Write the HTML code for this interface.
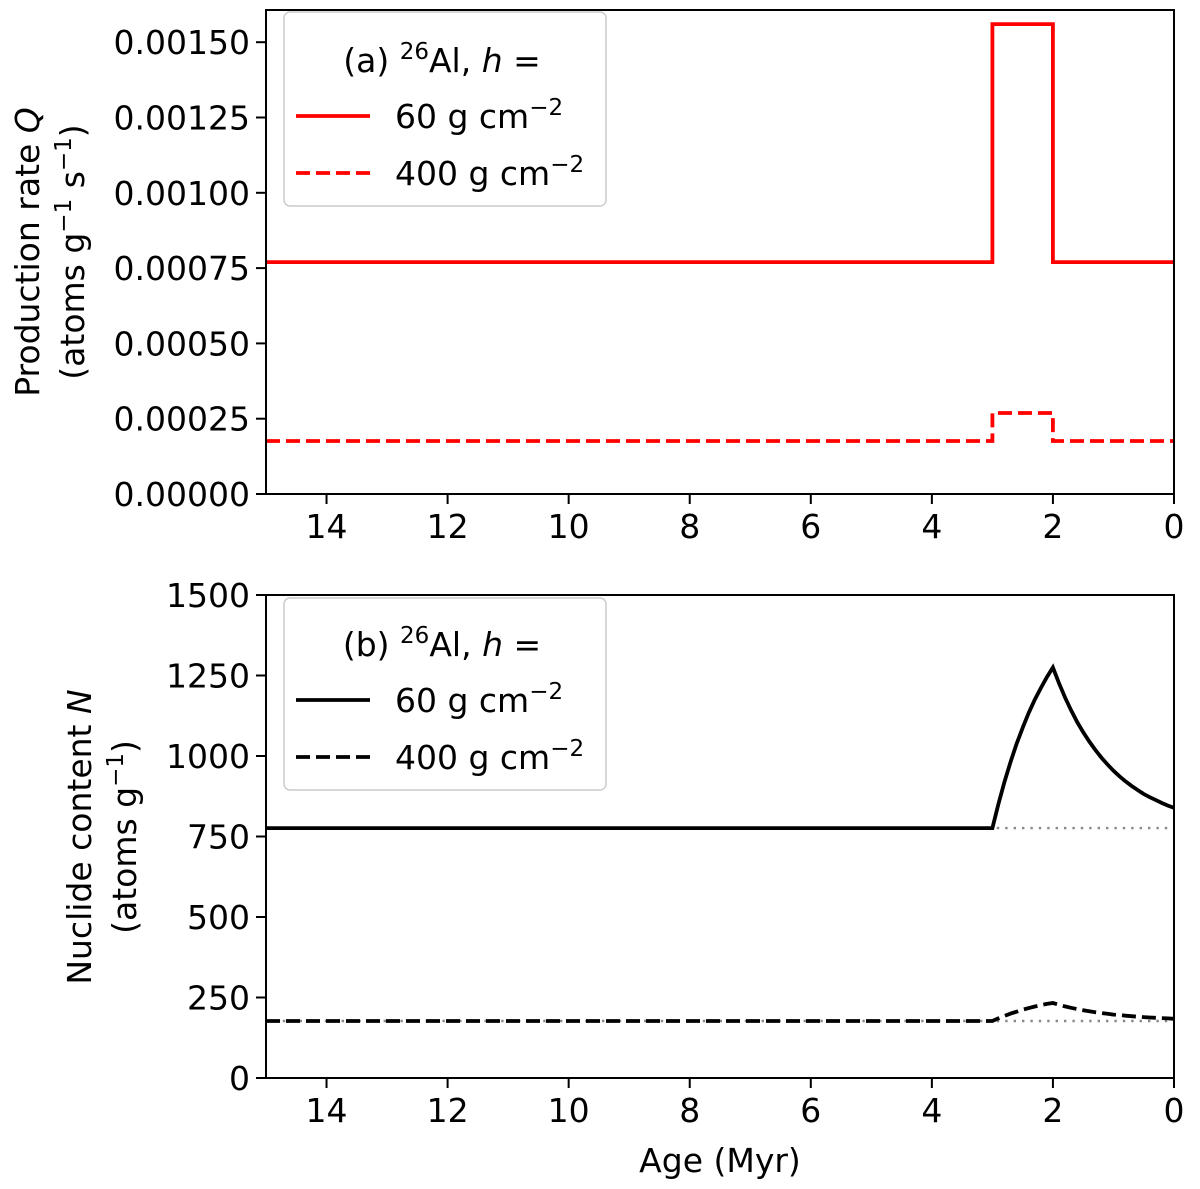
<!DOCTYPE html>
<html><head><meta charset="utf-8"><style>
body{margin:0;background:#fff}
svg text{font-family:"DejaVu Sans","Liberation Sans",sans-serif;fill:#000}
</style></head><body>
<svg id="c" width="1200" height="1184" xmlns="http://www.w3.org/2000/svg"></svg>
<script>
const xTicks=[14,12,10,8,6,4,2,0];
const topYTicks=[0,0.00025,0.0005,0.00075,0.001,0.00125,0.0015];
const topYLabels=["0.00000","0.00025","0.00050","0.00075","0.00100","0.00125","0.00150"];
const botYTicks=[0,250,500,750,1000,1250,1500];
const qAges=[15,3,3,2,2,0];
const q60=[0.00077,0.00077,0.00156,0.00156,0.00077,0.00077];
const q400=[0.000176,0.000176,0.000269,0.000269,0.000176,0.000176];
const nAges=[15,3,2.9,2.8,2.7,2.6,2.5,2.4,2.3,2.2,2.1,2,1.9,1.8,1.7,1.6,1.5,1.4,1.3,1.2,1.1,1,0.9,0.8,0.7,0.6,0.5,0.4,0.3,0.2,0.1,0];
const n60=[776,776,852,920,982,1038,1088,1134,1175,1211,1245,1275,1226,1182,1142,1106,1074,1045,1019,995,974,954,937,921,907,894,882,872,863,854,846,839];
const n400=[177,177,185.5,193,200,206,212,217,222,226,230,233,227.5,222.5,218,214,210.5,207,204.5,202,199.5,197,195.5,193.5,192,190.5,189,188,187,186,185,184];
const n60ss=776, n400ss=177;

const svg=document.getElementById('c');
const NS='http://www.w3.org/2000/svg';
function mk(t,a,p){const e=document.createElementNS(NS,t);for(const k in a)e.setAttribute(k,a[k]);(p||svg).appendChild(e);return e;}
const L=266,R=1174;
const X=v=>L+(15-v)/15*(R-L);
const Yt=v=>494-v/0.00025*75.3;
const Yb=v=>1078-v/250*80.5;
function path(xs,ys,fx,fy,attrs,name){let d='';xs.forEach((x,i)=>{d+=(i?'L':'M')+fx(x).toFixed(1)+','+fy(ys[i]).toFixed(1);});const p=mk('path',Object.assign({d:d,fill:'none'},attrs));return p;}

function axes(top,bot,yTicks,yLabels,fy,name){
  const g=mk('g',{});
  
  
  xTicks.forEach(t=>{
    mk('line',{x1:X(t),x2:X(t),y1:bot,y2:bot+10,stroke:'#000','stroke-width':2},g);
    const tx=mk('text',{x:X(t),y:bot+44,'font-size':33,'text-anchor':'middle'},g);tx.textContent=t;
    
    
  });
  yTicks.forEach((t,i)=>{
    const y=fy(t);
    mk('line',{x1:L-10,x2:L,y1:y,y2:y,stroke:'#000','stroke-width':2},g);
    const tx=mk('text',{x:L-16,y:y+12,'font-size':33,'text-anchor':'end'},g);tx.textContent=yLabels[i];
    
    
  });
  return g;
}
function frame(top,bot,name){const r=mk('rect',{x:L,y:top,width:R-L,height:bot-top,fill:'none',stroke:'#000','stroke-width':2});}

axes(10,494,topYTicks,topYLabels,Yt,'top-axes');
path(qAges,q60,X,Yt,{stroke:'#f00','stroke-width':3.8},'q-60-line');
path(qAges,q400,X,Yt,{stroke:'#f00','stroke-width':3.8,'stroke-dasharray':'14 6'},'q-400-line');
frame(10,494,'top-frame');

axes(595,1078,botYTicks,botYTicks.map(String),Yb,'bottom-axes');
path([15,0],[n60ss,n60ss],X,Yb,{stroke:'#888','stroke-width':2.4,'stroke-dasharray':'2.4 6'},'n-60-steady-line');
path([15,0],[n400ss,n400ss],X,Yb,{stroke:'#888','stroke-width':2.4,'stroke-dasharray':'2.4 6'},'n-400-steady-line');
path(nAges,n60,X,Yb,{stroke:'#000','stroke-width':3.8},'n-60-line');
path(nAges,n400,X,Yb,{stroke:'#000','stroke-width':3.8,'stroke-dasharray':'14 6'},'n-400-line');
frame(595,1078,'bottom-frame');
</script>
<svg width="1200" height="1184" style="position:absolute;left:0;top:0" xmlns="http://www.w3.org/2000/svg">
  <g>
    <rect x="284" y="12" width="322" height="194" rx="6" fill="#fff" stroke="#ccc" stroke-width="1.5"/>
    <text x="442" y="72" font-size="33" text-anchor="middle">(a) <tspan font-size="23" dy="-13">26</tspan><tspan dy="13">Al, </tspan><tspan font-style="italic">h</tspan> =</text>
    <line x1="296" y1="116" x2="370" y2="116" stroke="#f00" stroke-width="3.8"/>
    <text x="395" y="128" font-size="33">60 g cm<tspan font-size="23" dy="-13">−2</tspan></text>
    <line x1="296" y1="173" x2="370" y2="173" stroke="#f00" stroke-width="3.8" stroke-dasharray="14 6"/>
    <text x="395" y="185" font-size="33">400 g cm<tspan font-size="23" dy="-13">−2</tspan></text>
  </g>
  <g>
    <rect x="284" y="598" width="322" height="192" rx="6" fill="#fff" stroke="#ccc" stroke-width="1.5"/>
    <text x="442" y="656" font-size="33" text-anchor="middle">(b) <tspan font-size="23" dy="-13">26</tspan><tspan dy="13">Al, </tspan><tspan font-style="italic">h</tspan> =</text>
    <line x1="296" y1="700" x2="370" y2="700" stroke="#000" stroke-width="3.8"/>
    <text x="395" y="712" font-size="33">60 g cm<tspan font-size="23" dy="-13">−2</tspan></text>
    <line x1="296" y1="757" x2="370" y2="757" stroke="#000" stroke-width="3.8" stroke-dasharray="14 6"/>
    <text x="395" y="769" font-size="33">400 g cm<tspan font-size="23" dy="-13">−2</tspan></text>
  </g>
  <g>
    <text transform="translate(39,252) rotate(-90)" font-size="33" text-anchor="middle">Production rate <tspan font-style="italic">Q</tspan></text>
    <text transform="translate(84,252) rotate(-90)" font-size="33" text-anchor="middle">(atoms g<tspan font-size="23" dy="-13">−1</tspan><tspan dy="13"> s</tspan><tspan font-size="23" dy="-13">−1</tspan><tspan dy="13">)</tspan></text>
  </g>
  <g>
    <text transform="translate(91,837) rotate(-90)" font-size="33" text-anchor="middle">Nuclide content <tspan font-style="italic">N</tspan></text>
    <text transform="translate(136,837) rotate(-90)" font-size="33" text-anchor="middle">(atoms g<tspan font-size="23" dy="-13">−1</tspan><tspan dy="13">)</tspan></text>
  </g>
  <text x="720" y="1172" font-size="33" text-anchor="middle">Age (Myr)</text>
</svg>
</body></html>
